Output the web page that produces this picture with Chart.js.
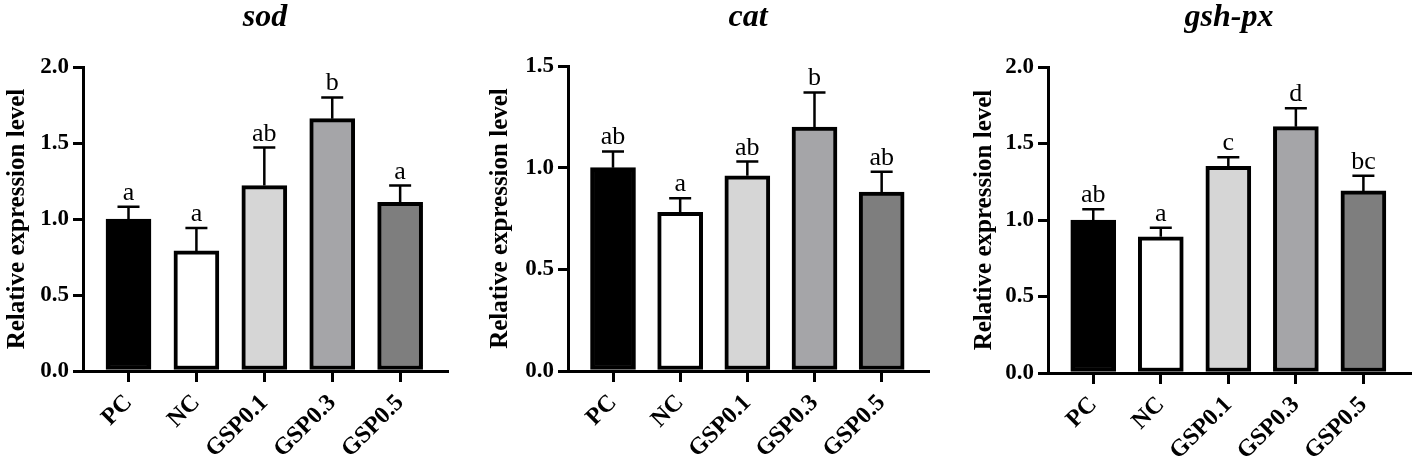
<!DOCTYPE html>
<html>
<head>
<meta charset="utf-8">
<script src="https://cdn.jsdelivr.net/npm/chart.js@4.4.0/dist/chart.umd.min.js"></script>
<style>
  body { margin: 0; background: #fff; width: 1417px; height: 465px; overflow: hidden; }
  .panel { position: absolute; top: 0; }
</style>
</head>
<body>
<div class="panel" style="left:0"><canvas id="sod" width="470" height="465"></canvas></div>
<div class="panel" style="left:470px"><canvas id="cat" width="470" height="465"></canvas></div>
<div class="panel" style="left:940px"><canvas id="gsh" width="477" height="465"></canvas></div>
<script>
// Groups and bar fills
const groups = ['PC', 'NC', 'GSP0.1', 'GSP0.3', 'GSP0.5'];
const barColors = ['#000000', '#ffffff', '#d6d6d6', '#a5a5a8', '#7e7e7e'];

// sod
const sodMean = [1.00, 0.79, 1.22, 1.66, 1.11];
const sodErr = [0.08, 0.15, 0.25, 0.14, 0.11];
const sodLetters = ['a', 'a', 'ab', 'b', 'a'];

// cat
const catMean = [1.00, 0.78, 0.96, 1.20, 0.88];
const catErr = [0.08, 0.07, 0.07, 0.17, 0.10];
const catLetters = ['ab', 'a', 'ab', 'b', 'ab'];

// gsh-px
const gshMean = [1.00, 0.89, 1.35, 1.61, 1.19];
const gshErr = [0.07, 0.06, 0.06, 0.12, 0.10];
const gshLetters = ['ab', 'a', 'c', 'd', 'bc'];

const serif = '"Liberation Serif", "Times New Roman", serif';

// Draws the upper error bars, significance letters and the italic title
const errorBarPlugin = {
    id: 'errorBars',
    afterDatasetsDraw(chart, args, opts) {
        const ctx = chart.ctx;
        const x = chart.scales.x, y = chart.scales.y;
        ctx.save();
        ctx.strokeStyle = '#000';
        ctx.fillStyle = '#000';
        ctx.lineWidth = 2.5;
        opts.means.forEach((m, i) => {
            const px = x.getPixelForValue(i);
            const y0 = y.getPixelForValue(m);
            const y1 = y.getPixelForValue(m + opts.errs[i]);
            ctx.beginPath();
            ctx.moveTo(px, y0);
            ctx.lineTo(px, y1);
            ctx.moveTo(px - 11, y1);
            ctx.lineTo(px + 11, y1);
            ctx.stroke();
            ctx.font = '26px ' + serif;
            ctx.textAlign = 'center';
            ctx.textBaseline = 'alphabetic';
            ctx.fillText(opts.letters[i], px, y1 - 7);
        });
        const area = chart.chartArea;
        ctx.font = 'bold italic 32px ' + serif;
        ctx.textAlign = 'center';
        ctx.textBaseline = 'middle';
        ctx.fillText(opts.title, (area.left + area.right) / 2, 18);
        ctx.restore();
    }
};

function makeChart(id, title, means, errs, letters, yMax, box) {
    const ctx = document.getElementById(id).getContext('2d');
    return new Chart(ctx, {
        type: 'bar',
        data: {
            datasets: [{
                data: means.map((v, i) => ({ x: i, y: v })),
                backgroundColor: barColors,
                borderColor: '#000',
                borderWidth: 4,
                borderSkipped: false,
                barThickness: 45
            }]
        },
        options: {
            responsive: false,
            animation: false,
            layout: { padding: { left: box.padL, top: box.top, right: box.padR, bottom: 0 } },
            plugins: {
                legend: { display: false },
                tooltip: { enabled: false },
                errorBars: { means: means, errs: errs, letters: letters, title: title }
            },
            scales: {
                x: {
                    type: 'linear',
                    offset: false,
                    min: -0.67,
                    max: 4.69,
                    afterBuildTicks: s => { s.ticks = groups.map((g, i) => ({ value: i })); },
                    afterFit: s => { s.height = box.xH; },
                    ticks: {
                        callback: v => groups[v],
                        autoSkip: false,
                        maxRotation: 45,
                        minRotation: 45,
                        color: '#000',
                        padding: 7,
                        font: { family: serif, size: 24, weight: 'bold' }
                    },
                    grid: { offset: false, drawOnChartArea: false, color: '#000', lineWidth: 3, tickLength: 11 },
                    border: { color: '#000', width: 3 }
                },
                y: {
                    min: 0,
                    max: yMax,
                    afterFit: s => { s.width = box.yW; },
                    ticks: {
                        stepSize: 0.5,
                        callback: v => v.toFixed(1),
                        color: '#000',
                        padding: 4,
                        font: { family: serif, size: 23, weight: 'bold' }
                    },
                    grid: { drawOnChartArea: false, color: '#000', lineWidth: 3, tickLength: 10 },
                    border: { color: '#000', width: 3 },
                    title: {
                        display: true,
                        text: 'Relative expression level',
                        color: '#000',
                        padding: { top: 3, bottom: 0 },
                        font: { family: serif, size: 25, weight: 'bold' }
                    }
                }
            }
        },
        plugins: [errorBarPlugin]
    });
}

makeChart('sod', 'sod', sodMean, sodErr, sodLetters, 2.0, { padL: 0, yW: 83, padR: 23, top: 67, xH: 94 });
makeChart('cat', 'cat', catMean, catErr, catLetters, 1.5, { padL: 13, yW: 85, padR: 12, top: 66, xH: 94 });
makeChart('gsh', 'gsh-px', gshMean, gshErr, gshLetters, 2.0, { padL: 27, yW: 81, padR: 7, top: 67, xH: 92 });
</script>
</body>
</html>
